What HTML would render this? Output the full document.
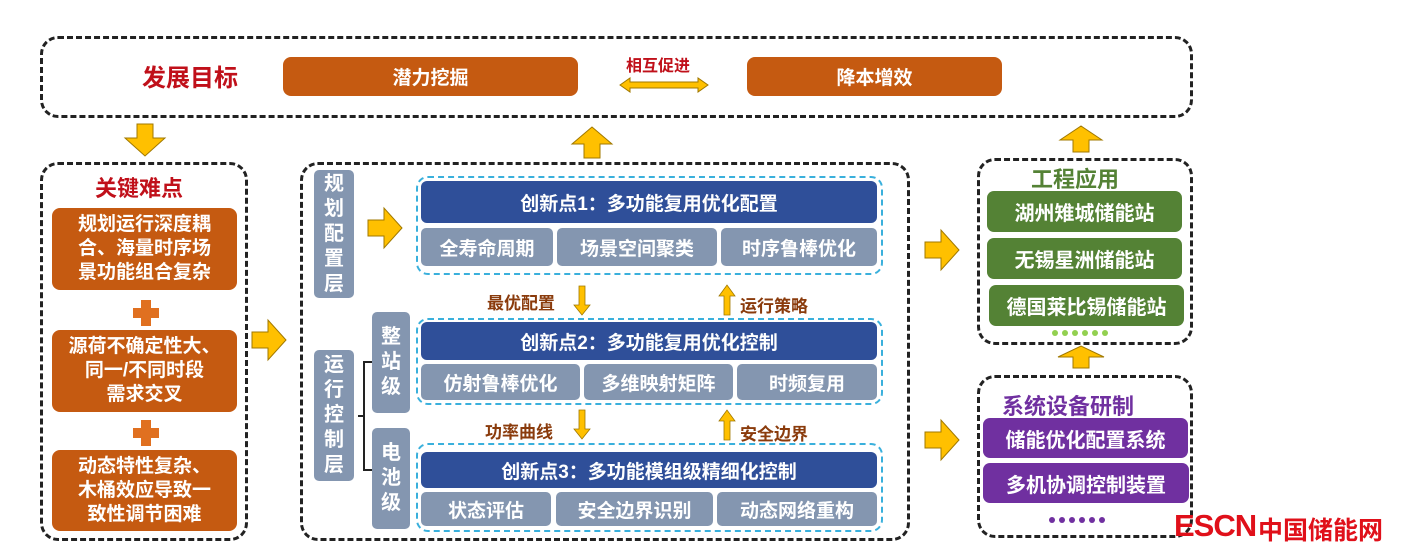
<!DOCTYPE html>
<html><head><meta charset="utf-8"><style>
html,body{margin:0;padding:0;background:#fff;}
body{width:1411px;height:557px;position:relative;overflow:hidden;font-family:"Liberation Sans","Noto Sans CJK SC",sans-serif;font-weight:bold;}
.a{position:absolute;box-sizing:border-box;}
.dash{border:3px dashed #222;border-radius:18px;}
.bdash{border:2.5px dashed #3ab0dc;border-radius:12px;}
.c{display:flex;align-items:center;justify-content:center;text-align:center;color:#fff;}
.or{background:#c55a11;border-radius:8px;}
.bl{background:#2f4f99;border-radius:6px;font-size:19px;}
.gr{background:#8496b0;border-radius:5px;font-size:19px;}
.gn{background:#548235;border-radius:7px;font-size:20px;}
.pu{background:#7030a0;border-radius:7px;font-size:20px;}
.vt{background:#8496b0;border-radius:5px;font-size:20px;line-height:25px;color:#fff;text-align:center;display:flex;align-items:center;justify-content:center;}
.lbl{color:#8a3b0c;font-size:17px;}
</style></head><body>
<svg class="a" style="left:0;top:0" width="1411" height="557">
<path d="M137 124 H153 V138 H165 L145 156 L125 138 H137 Z" fill="#ffc000" stroke="#a07800"/>
<path d="M584 158 H600 V144 H612 L592 127 L572 144 H584 Z" fill="#ffc000" stroke="#a07800"/>
<path d="M1073 152 H1089 V140 H1102 L1081 126 L1060 140 H1073 Z" fill="#ffc000" stroke="#a07800"/>
<path d="M1073 368 H1089 V357 H1104 L1081 346 L1058 357 H1073 Z" fill="#ffc000" stroke="#a07800"/>
<path d="M252 332 H268 V320 L286 340 L268 360 V348 H252 Z" fill="#ffc000" stroke="#a07800"/>
<path d="M368 220 H384 V208 L402 228 L384 248 V236 H368 Z" fill="#ffc000" stroke="#a07800"/>
<path d="M925 242 H941 V230 L959 250 L941 270 V258 H925 Z" fill="#ffc000" stroke="#a07800"/>
<path d="M925 432 H941 V420 L959 440 L941 460 V448 H925 Z" fill="#ffc000" stroke="#a07800"/>
<path d="M620 85 L630 78 V82 H698 V78 L708 85 L698 92 V88 H630 V92 Z" fill="#ffc000" stroke="#a07800"/>
<path d="M579 286 H585 V305 H590 L582 315 L574 305 H579 Z" fill="#ffc000" stroke="#a07800" stroke-width=".8"/>
<path d="M579 410 H585 V429 H590 L582 439 L574 429 H579 Z" fill="#ffc000" stroke="#a07800" stroke-width=".8"/>
<path d="M724 315 H730 V296 H735 L727 285 L719 296 H724 Z" fill="#ffc000" stroke="#a07800" stroke-width=".8"/>
<path d="M724 440 H730 V421 H735 L727 410 L719 421 H724 Z" fill="#ffc000" stroke="#a07800" stroke-width=".8"/>
<path d="M141 300 H151 V308 H159 V318 H151 V326 H141 V318 H133 V308 H141 Z" fill="#e07020"/>
<path d="M141 420 H151 V428 H159 V438 H151 V446 H141 V438 H133 V428 H141 Z" fill="#e07020"/>
<path d="M372 362 H364 V470 H372 M358 416 H364" fill="none" stroke="#222" stroke-width="2"/>
<g fill="#92d050"><circle cx="1055" cy="333" r="3"/><circle cx="1065" cy="333" r="3"/><circle cx="1075" cy="333" r="3"/><circle cx="1085" cy="333" r="3"/><circle cx="1095" cy="333" r="3"/><circle cx="1105" cy="333" r="3"/></g>
<g fill="#7030a0"><circle cx="1052" cy="520" r="3"/><circle cx="1062" cy="520" r="3"/><circle cx="1072" cy="520" r="3"/><circle cx="1082" cy="520" r="3"/><circle cx="1092" cy="520" r="3"/><circle cx="1102" cy="520" r="3"/></g>
</svg>

<div class="a dash" style="left:40px;top:36px;width:1153px;height:82px;"></div>
<div class="a" style="left:142px;top:58px;font-size:24px;color:#c0101a;">发展目标</div>
<div class="a c or" style="left:283px;top:57px;width:295px;height:39px;font-size:19px;">潜力挖掘</div>
<div class="a" style="left:626px;top:52px;font-size:16px;color:#c0101a;">相互促进</div>
<div class="a c or" style="left:747px;top:57px;width:255px;height:39px;font-size:19px;">降本增效</div>

<div class="a dash" style="left:40px;top:162px;width:208px;height:379px;"></div>
<div class="a" style="left:95px;top:171px;font-size:22px;color:#c0101a;">关键难点</div>
<div class="a c or" style="left:52px;top:208px;width:185px;height:82px;font-size:19px;line-height:24px;">规划运行深度耦<br>合、海量时序场<br>景功能组合复杂</div>
<div class="a c or" style="left:52px;top:330px;width:185px;height:82px;font-size:19px;line-height:24px;">源荷不确定性大、<br>同一/不同时段<br>需求交叉</div>
<div class="a c or" style="left:52px;top:450px;width:185px;height:81px;font-size:19px;line-height:24px;">动态特性复杂、<br>木桶效应导致一<br>致性调节困难</div>

<div class="a dash" style="left:300px;top:162px;width:610px;height:379px;"></div>
<div class="a vt" style="left:314px;top:170px;width:40px;height:128px;">规<br>划<br>配<br>置<br>层</div>
<div class="a vt" style="left:314px;top:350px;width:40px;height:131px;">运<br>行<br>控<br>制<br>层</div>
<div class="a vt" style="left:372px;top:312px;width:38px;height:101px;">整<br>站<br>级</div>
<div class="a vt" style="left:372px;top:428px;width:38px;height:101px;">电<br>池<br>级</div>

<div class="a bdash" style="left:416px;top:176px;width:467px;height:99px;"></div>
<div class="a c bl" style="left:421px;top:181px;width:456px;height:42px;">创新点1：多功能复用优化配置</div>
<div class="a c gr" style="left:421px;top:228px;width:132px;height:38px;">全寿命周期</div>
<div class="a c gr" style="left:557px;top:228px;width:160px;height:38px;">场景空间聚类</div>
<div class="a c gr" style="left:721px;top:228px;width:156px;height:38px;">时序鲁棒优化</div>

<div class="a lbl" style="left:487px;top:289px;">最优配置</div>
<div class="a lbl" style="left:740px;top:292px;">运行策略</div>

<div class="a bdash" style="left:416px;top:318px;width:467px;height:87px;"></div>
<div class="a c bl" style="left:421px;top:322px;width:456px;height:38px;">创新点2：多功能复用优化控制</div>
<div class="a c gr" style="left:421px;top:364px;width:159px;height:36px;">仿射鲁棒优化</div>
<div class="a c gr" style="left:584px;top:364px;width:149px;height:36px;">多维映射矩阵</div>
<div class="a c gr" style="left:737px;top:364px;width:140px;height:36px;">时频复用</div>

<div class="a lbl" style="left:485px;top:418px;">功率曲线</div>
<div class="a lbl" style="left:740px;top:420px;">安全边界</div>

<div class="a bdash" style="left:416px;top:443px;width:467px;height:89px;"></div>
<div class="a c bl" style="left:421px;top:452px;width:456px;height:36px;">创新点3：多功能模组级精细化控制</div>
<div class="a c gr" style="left:421px;top:492px;width:130px;height:34px;">状态评估</div>
<div class="a c gr" style="left:556px;top:492px;width:157px;height:34px;">安全边界识别</div>
<div class="a c gr" style="left:717px;top:492px;width:160px;height:34px;">动态网络重构</div>

<div class="a dash" style="left:977px;top:158px;width:216px;height:187px;"></div>
<div class="a" style="left:1031px;top:162px;font-size:22px;color:#548235;">工程应用</div>
<div class="a c gn" style="left:987px;top:191px;width:195px;height:41px;">湖州雉城储能站</div>
<div class="a c gn" style="left:987px;top:238px;width:195px;height:41px;">无锡星洲储能站</div>
<div class="a c gn" style="left:989px;top:285px;width:195px;height:41px;">德国莱比锡储能站</div>

<div class="a dash" style="left:977px;top:375px;width:216px;height:163px;"></div>
<div class="a" style="left:1002px;top:389px;font-size:22px;color:#7030a0;">系统设备研制</div>
<div class="a c pu" style="left:983px;top:418px;width:205px;height:40px;">储能优化配置系统</div>
<div class="a c pu" style="left:983px;top:463px;width:206px;height:40px;">多机协调控制装置</div>

<div class="a" style="left:1174px;top:508px;font-size:31px;color:#e0101a;letter-spacing:-1px;">ESCN</div>
<div class="a" style="left:1258px;top:511px;font-size:25px;color:#e0101a;">中国储能网</div>
</body></html>
